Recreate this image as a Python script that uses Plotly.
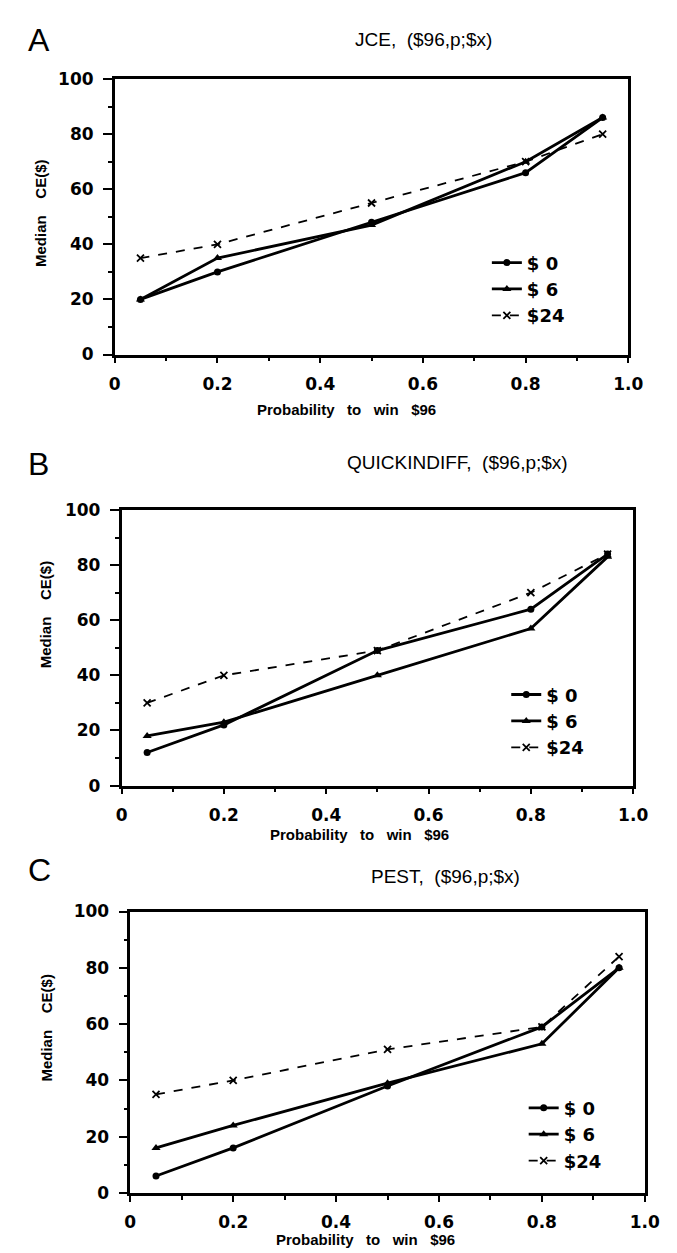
import plotly.graph_objects as go

# ---------------- data ----------------
prob = [0.05, 0.2, 0.5, 0.8, 0.95]
series_names = ["$ 0", "$ 6", "$24"]

jce_0 = [20, 30, 48, 66, 86]
jce_6 = [20, 35, 47, 70, 86]
jce_24 = [35, 40, 55, 70, 80]

qi_0 = [12, 22, 49, 64, 84]
qi_6 = [18, 23, 40, 57, 83]
qi_24 = [30, 40, 49, 70, 84]

pest_0 = [6, 16, 38, 59, 80]
pest_6 = [16, 24, 39, 53, 80]
pest_24 = [35, 40, 51, 59, 84]

panel_letters = ["A", "B", "C"]
panel_titles = ["JCE,  ($96,p;$x)", "QUICKINDIFF,  ($96,p;$x)", "PEST,  ($96,p;$x)"]
x_title = "Probability   to   win   $96"
y_title = "Median    CE($)"
x_ticks = [0, 0.2, 0.4, 0.6, 0.8, 1.0]
x_tick_labels = ["0", "0.2", "0.4", "0.6", "0.8", "1.0"]
y_ticks = [0, 20, 40, 60, 80, 100]
y_tick_labels = ["0", "20", "40", "60", "80", "100"]

panels = [
    [jce_0, jce_6, jce_24],
    [qi_0, qi_6, qi_24],
    [pest_0, pest_6, pest_24],
]

# ---------------- layout geometry (pixels) ----------------
W, H = 677, 1253
plot_px = [
    ((104, 634), (62, 342)),
    ((111, 639), (500, 780)),
    ((120, 651), (908, 1194)),
]
letter_px = [(26, 22), (25, 453), (26, 866)]
title_px = [(423, 22), (458, 452), (445, 872)]
xtitle_px = [(343, 398), (357, 830), (363, 1241)]
ytitle_px = [(28, 198), (32, 606), (34, 1026)]
legend_px = [(488, 230), (508, 669), (526, 1089)]

def px2x(p):
    return p / W

def px2y(p):
    return 1 - p / H

FONT = "Liberation Sans"
TITLE_FONT = "Liberation Sans Narrow, Liberation Sans"
TICK_FONT = "DejaVu Sans"
black = "black"

fig = go.Figure()

styles = [
    dict(line=dict(color=black, width=2.8, dash="solid"),
         marker=dict(symbol="circle", size=7, color=black)),
    dict(line=dict(color=black, width=2.8, dash="solid"),
         marker=dict(symbol="triangle-up", size=8, color=black)),
    dict(line=dict(color=black, width=1.8, dash="dash"),
         marker=dict(symbol="x-thin", size=7, color=black,
                     line=dict(color=black, width=1.8))),
]

legend_keys = ["legend", "legend2", "legend3"]

for i, data in enumerate(panels):
    suffix = "" if i == 0 else str(i + 1)
    for j, vals in enumerate(data):
        fig.add_trace(go.Scatter(
            x=prob, y=vals, mode="lines+markers",
            name=series_names[j],
            xaxis="x" + suffix, yaxis="y" + suffix,
            legend=legend_keys[i],
            **styles[j],
        ))

layout = dict(
    width=W, height=H,
    margin=dict(l=0, r=0, t=0, b=0),
    paper_bgcolor="white", plot_bgcolor="white",
    font=dict(family=FONT, color=black),
    annotations=[],
)

axis_common = dict(
    showline=True, linecolor=black, linewidth=2.5, mirror=True,
    ticks="outside", tickwidth=2, tickcolor=black,
    showgrid=False, zeroline=False,
    tickfont=dict(family=TICK_FONT, size=17, color=black, weight="bold"),
)

for i in range(3):
    suffix = "" if i == 0 else str(i + 1)
    (xl, xr), (yt, yb) = plot_px[i]
    layout["xaxis" + suffix] = dict(
        axis_common,
        domain=[px2x(xl), px2x(xr)],
        range=[0, 1], anchor="y" + suffix,
        tickvals=x_ticks, ticktext=x_tick_labels, ticklen=6,
        ticklabelstandoff=6,
        minor=dict(dtick=0.1, ticks="outside", ticklen=4, tickwidth=1.5, tickcolor=black),
    )
    layout["yaxis" + suffix] = dict(
        axis_common,
        domain=[px2y(yb), px2y(yt)],
        range=[0, 100], anchor="x" + suffix,
        tickvals=y_ticks, ticktext=y_tick_labels, ticklen=9,
        ticklabelstandoff=6,
        minor=dict(dtick=10, ticks="outside", ticklen=4, tickwidth=1.5, tickcolor=black),
    )
    lx, ly = legend_px[i]
    layout[legend_keys[i]] = dict(
        x=px2x(lx), y=px2y(ly), xanchor="left", yanchor="top",
        xref="paper", yref="paper",
        bgcolor="rgba(0,0,0,0)", borderwidth=0,
        font=dict(family=TICK_FONT, size=18, color=black, weight="bold"),
        itemwidth=30, tracegroupgap=0,
    )
    ax, ay = letter_px[i]
    layout["annotations"].append(dict(
        text=panel_letters[i], x=px2x(ax), y=px2y(ay), xref="paper", yref="paper",
        showarrow=False, xanchor="center", yanchor="middle",
        font=dict(family=FONT, size=32, color=black),
    ))
    tx, ty = title_px[i]
    layout["annotations"].append(dict(
        text=panel_titles[i], x=px2x(tx), y=px2y(ty), xref="paper", yref="paper",
        showarrow=False, xanchor="center", yanchor="middle",
        font=dict(family=TITLE_FONT, size=19, color=black),
    ))
    xx, xy = xtitle_px[i]
    layout["annotations"].append(dict(
        text=x_title, x=px2x(xx), y=px2y(xy), xref="paper", yref="paper",
        showarrow=False, xanchor="center", yanchor="middle",
        font=dict(family=FONT, size=15, color=black, weight="bold"),
    ))
    yx, yy = ytitle_px[i]
    layout["annotations"].append(dict(
        text=y_title, x=px2x(yx), y=px2y(yy), xref="paper", yref="paper",
        showarrow=False, xanchor="center", yanchor="middle", textangle=-90,
        font=dict(family=FONT, size=15, color=black, weight="bold"),
    ))

fig.update_layout(**layout)
fig.write_html("out.html")
